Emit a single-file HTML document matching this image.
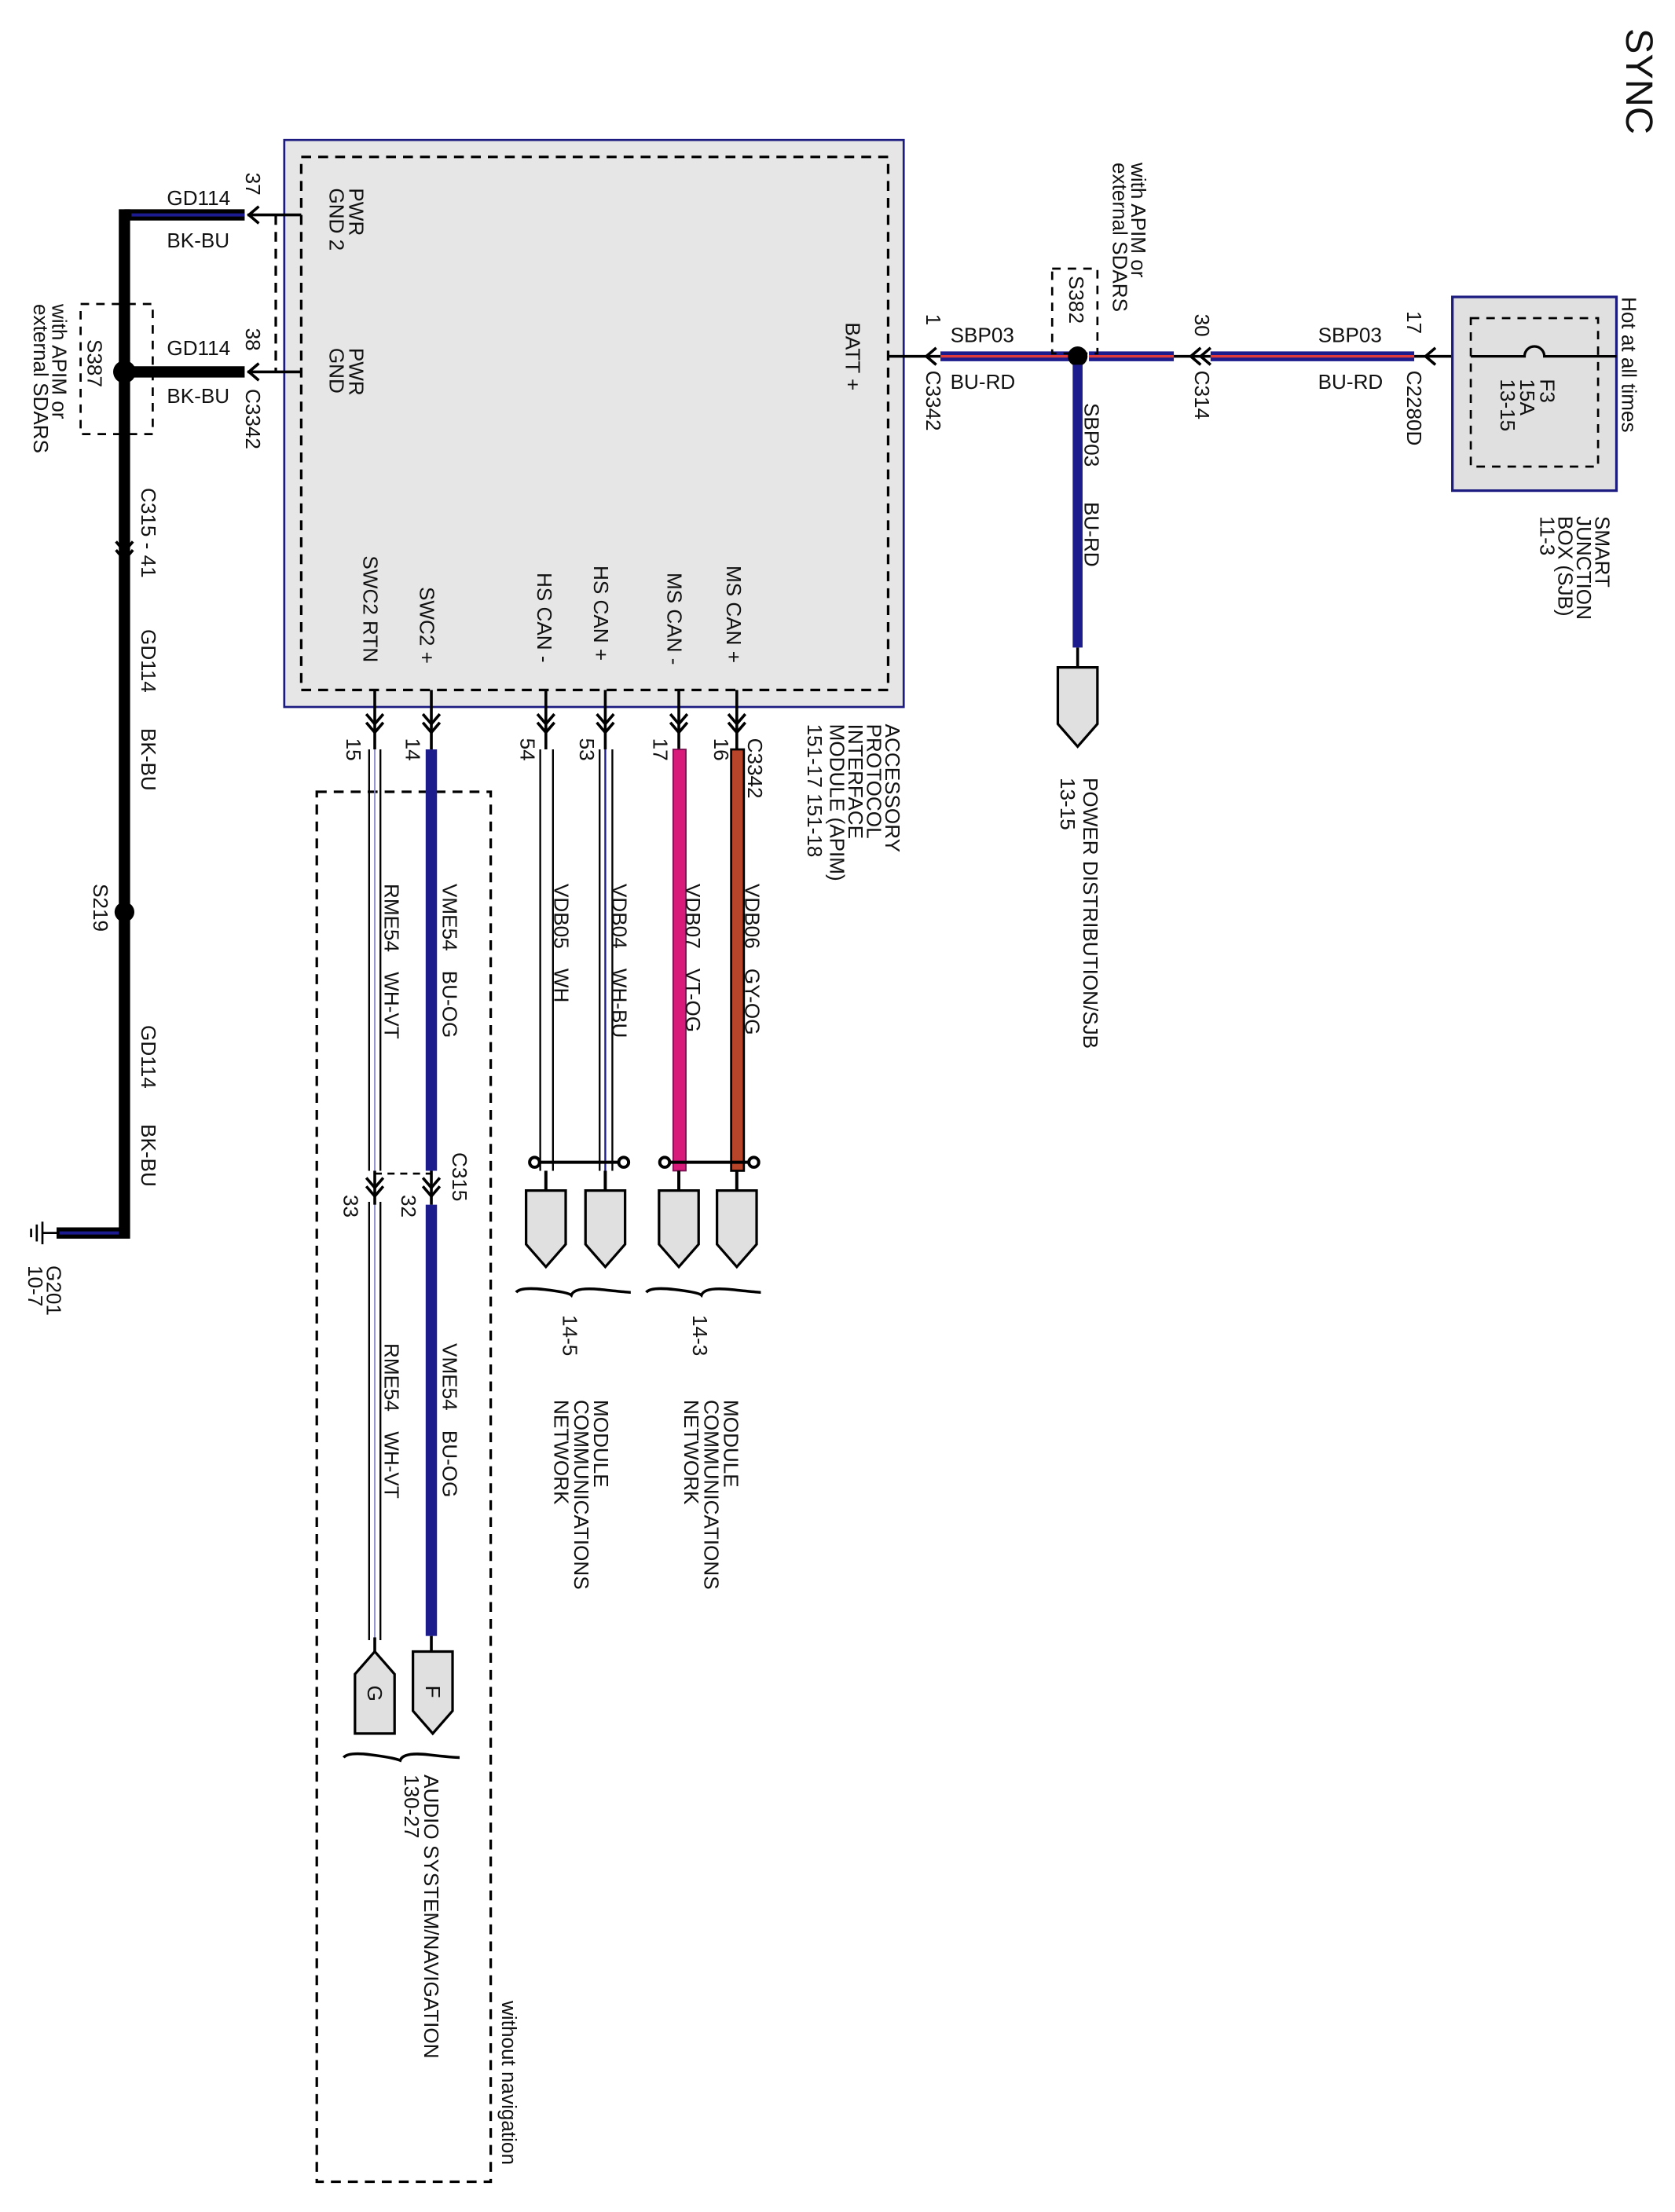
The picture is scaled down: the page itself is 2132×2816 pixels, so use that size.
<!DOCTYPE html>
<html><head><meta charset="utf-8"><style>
html,body{margin:0;padding:0;background:#fff}
svg{display:block}
text{font-family:"Liberation Sans",Arial,sans-serif;font-size:14.5px;fill:#111}
</style></head><body>
<svg width="2132" height="2816" viewBox="0 0 1184.4 1564.4" preserveAspectRatio="none" xmlns="http://www.w3.org/2000/svg">
<defs>
<g id="chev"><polyline points="-6,-7 0,0 6,-7" fill="none" stroke="#000" stroke-width="2"/><polyline points="-6,-1 0,6 6,-1" fill="none" stroke="#000" stroke-width="2"/></g>
<g id="chevL"><polyline points="7,-6 0,0 7,6" fill="none" stroke="#000" stroke-width="2"/></g>
</defs>
<rect width="1184.4" height="1564.4" fill="#fff"/>

<text transform="translate(1150,20) rotate(90)" style="font-size:27px">SYNC</text>

<!-- APIM box -->
<rect x="201" y="99" width="438" height="401" fill="#e6e6e6" stroke="#1c1c80" stroke-width="1.5"/>
<rect x="213" y="111" width="415" height="377" fill="none" stroke="#000" stroke-width="1.8" stroke-dasharray="7,5"/>
<text transform="translate(247,133) rotate(90)"><tspan x="0" y="0">PWR</tspan><tspan x="0" y="14">GND 2</tspan></text>
<text transform="translate(247,246) rotate(90)"><tspan x="0" y="0">PWR</tspan><tspan x="0" y="14">GND</tspan></text>
<text transform="translate(598,228) rotate(90)">BATT +</text>
<text transform="translate(257,393) rotate(90)">SWC2 RTN</text>
<text transform="translate(297,415) rotate(90)">SWC2 +</text>
<text transform="translate(380,405) rotate(90)">HS CAN -</text>
<text transform="translate(420,400) rotate(90)">HS CAN +</text>
<text transform="translate(472,405) rotate(90)">MS CAN -</text>
<text transform="translate(514,400) rotate(90)">MS CAN +</text>
<text transform="translate(626,512) rotate(90)"><tspan x="0" y="0">ACCESSORY</tspan><tspan x="0" y="13">PROTOCOL</tspan><tspan x="0" y="26">INTERFACE</tspan><tspan x="0" y="39">MODULE (APIM)</tspan><tspan x="0" y="55">151-17   151-18</tspan></text>

<!-- ground side -->
<line x1="195" y1="152" x2="195" y2="263" stroke="#000" stroke-width="1.8" stroke-dasharray="7,5"/>
<line x1="175" y1="152" x2="213" y2="152" stroke="#000" stroke-width="2"/>
<line x1="175" y1="263" x2="213" y2="263" stroke="#000" stroke-width="2"/>
<use href="#chevL" x="176" y="152"/><use href="#chevL" x="176" y="263"/>
<line x1="88" y1="152" x2="173" y2="152" stroke="#000" stroke-width="8"/>
<line x1="93" y1="152" x2="173" y2="152" stroke="#1c1c90" stroke-width="2.2"/>
<line x1="88" y1="263" x2="173" y2="263" stroke="#000" stroke-width="8"/>
<polyline points="88,148 88,872 40,872" fill="none" stroke="#000" stroke-width="8"/>
<line x1="42" y1="872" x2="84" y2="872" stroke="#1c1c90" stroke-width="2.2"/>
<circle cx="88" cy="263" r="8" fill="#000"/>
<circle cx="88" cy="645" r="7" fill="#000"/>
<rect x="57" y="215" width="51" height="92" fill="none" stroke="#000" stroke-width="1.5" stroke-dasharray="6,5"/>
<use href="#chev" x="88" y="390"/>
<line x1="30" y1="864" x2="30" y2="880" stroke="#000" stroke-width="1.5"/><line x1="26" y1="866" x2="26" y2="878" stroke="#000" stroke-width="1.5"/><line x1="22" y1="869" x2="22" y2="875" stroke="#000" stroke-width="1.5"/><line x1="30" y1="872" x2="40" y2="872" stroke="#000" stroke-width="1.5"/>
<text x="118" y="145">GD114</text><text x="118" y="175">BK-BU</text>
<text x="118" y="251">GD114</text><text x="118" y="285">BK-BU</text>
<text transform="translate(174,122) rotate(90)">37</text>
<text transform="translate(174,232) rotate(90)">38</text>
<text transform="translate(174,275) rotate(90)">C3342</text>
<text transform="translate(37,215) rotate(90)"><tspan x="0" y="0">with APIM or</tspan><tspan x="0" y="13">external SDARS</tspan></text>
<text transform="translate(62,240) rotate(90)">S387</text>
<text transform="translate(100,345) rotate(90)">C315 - 41</text>
<text transform="translate(100,445) rotate(90)">GD114</text><text transform="translate(100,515) rotate(90)">BK-BU</text>
<text transform="translate(66,625) rotate(90)">S219</text>
<text transform="translate(100,725) rotate(90)">GD114</text><text transform="translate(100,795) rotate(90)">BK-BU</text>
<text transform="translate(33,895) rotate(90)"><tspan x="0" y="0">G201</tspan><tspan x="0" y="13">10-7</tspan></text>

<!-- BATT wire -->
<line x1="628" y1="252" x2="665" y2="252" stroke="#000" stroke-width="2"/>
<use href="#chevL" x="655" y="252"/>
<g stroke-width="7"><line x1="665" y1="252" x2="756" y2="252" stroke="#1c1c8c"/><line x1="770" y1="252" x2="830" y2="252" stroke="#1c1c8c"/><line x1="856" y1="252" x2="1000" y2="252" stroke="#1c1c8c"/></g>
<g stroke-width="1.8" stroke="#e03a3a"><line x1="665" y1="252" x2="756" y2="252"/><line x1="770" y1="252" x2="830" y2="252"/><line x1="856" y1="252" x2="1000" y2="252"/></g>
<line x1="830" y1="252" x2="856" y2="252" stroke="#000" stroke-width="2"/>
<use href="#chevL" x="842" y="252"/><use href="#chevL" x="849" y="252"/>
<line x1="1000" y1="252" x2="1040" y2="252" stroke="#000" stroke-width="2"/>
<use href="#chevL" x="1008" y="252"/>
<circle cx="762" cy="252" r="7" fill="#000"/>
<rect x="744" y="190" width="32" height="60" fill="none" stroke="#000" stroke-width="1.5" stroke-dasharray="6,5"/>
<line x1="762" y1="258" x2="762" y2="458" stroke="#1c1c8c" stroke-width="7"/>
<line x1="762" y1="458" x2="762" y2="472" stroke="#000" stroke-width="2"/>
<polygon points="748,472 776,472 776,512 762,528 748,512" fill="#e0e0e0" stroke="#000" stroke-width="1.8"/>
<text x="672" y="242">SBP03</text><text x="672" y="275">BU-RD</text>
<text x="932" y="242">SBP03</text><text x="932" y="275">BU-RD</text>
<text transform="translate(655,222) rotate(90)">1</text>
<text transform="translate(655,262) rotate(90)">C3342</text>
<text transform="translate(845,222) rotate(90)">30</text>
<text transform="translate(845,262) rotate(90)">C314</text>
<text transform="translate(995,220) rotate(90)">17</text>
<text transform="translate(995,262) rotate(90)">C2280D</text>
<text transform="translate(800,115) rotate(90)"><tspan x="0" y="0">with APIM or</tspan><tspan x="0" y="13">external SDARS</tspan></text>
<text transform="translate(756,195) rotate(90)">S382</text>
<text transform="translate(767,285) rotate(90)">SBP03</text><text transform="translate(767,355) rotate(90)">BU-RD</text>
<text transform="translate(766,550) rotate(90)">POWER DISTRIBUTION/SJB</text>
<text transform="translate(750,550) rotate(90)">13-15</text>

<!-- SJB -->
<rect x="1027" y="210" width="116" height="137" fill="#e0e0e0" stroke="#1c1c80" stroke-width="1.8"/>
<rect x="1040" y="225" width="90" height="105" fill="none" stroke="#000" stroke-width="1.5" stroke-dasharray="6,5"/>
<path d="M1040,252 H1078 A7,7 0 0 1 1092,252 H1143" fill="none" stroke="#000" stroke-width="1.8"/>
<text transform="translate(1089,268) rotate(90)"><tspan x="0" y="0">F3</tspan><tspan x="0" y="14">15A</tspan><tspan x="0" y="28">13-15</tspan></text>
<text transform="translate(1147,210) rotate(90)">Hot at all times</text>
<text transform="translate(1128,365) rotate(90)"><tspan x="0" y="0">SMART</tspan><tspan x="0" y="13">JUNCTION</tspan><tspan x="0" y="26">BOX (SJB)</tspan><tspan x="0" y="39">11-3</tspan></text>

<!-- bottom wires -->
<g stroke="#000" stroke-width="2">
<line x1="265" y1="488" x2="265" y2="530"/><line x1="305" y1="488" x2="305" y2="530"/>
<line x1="386" y1="488" x2="386" y2="530"/><line x1="428" y1="488" x2="428" y2="530"/>
<line x1="480" y1="488" x2="480" y2="530"/><line x1="521" y1="488" x2="521" y2="530"/>
</g>
<use href="#chev" x="265" y="512"/><use href="#chev" x="305" y="512"/><use href="#chev" x="386" y="512"/><use href="#chev" x="428" y="512"/><use href="#chev" x="480" y="512"/><use href="#chev" x="521" y="512"/>
<g fill="none" stroke="#000" stroke-width="1.3">
<line x1="382" y1="530" x2="382" y2="828"/><line x1="391" y1="530" x2="391" y2="828"/>
<line x1="424" y1="530" x2="424" y2="828"/><line x1="433" y1="530" x2="433" y2="828"/>
</g>
<line x1="428" y1="530" x2="428" y2="828" stroke="#1c1c8c" stroke-width="1.3"/>
<rect x="476" y="530" width="9" height="298" fill="#d81b7a" stroke="#7a1050" stroke-width="1"/>
<rect x="517" y="530" width="9" height="298" fill="#b8452a" stroke="#000" stroke-width="1.5"/>
<g stroke="#000" stroke-width="2.2" fill="#fff">
<line x1="380" y1="822" x2="438" y2="822"/><circle cx="378" cy="822" r="3.5"/><circle cx="441" cy="822" r="3.5"/>
<line x1="472" y1="822" x2="531" y2="822"/><circle cx="470" cy="822" r="3.5"/><circle cx="533" cy="822" r="3.5"/>
<line x1="386" y1="828" x2="386" y2="842"/><line x1="428" y1="828" x2="428" y2="842"/><line x1="480" y1="828" x2="480" y2="842"/><line x1="521" y1="828" x2="521" y2="842"/>
</g>
<g fill="#e0e0e0" stroke="#000" stroke-width="1.8">
<polygon points="372,842 400,842 400,880 386,896 372,880"/>
<polygon points="414,842 442,842 442,880 428,896 414,880"/>
<polygon points="466,842 494,842 494,880 480,896 466,880"/>
<polygon points="507,842 535,842 535,880 521,896 507,880"/>
</g>
<g fill="none" stroke="#000" stroke-width="2">
<path d="M365,914 Q368,910 385,912 T404,916 Q406,910 425,912 T446,914"/>
<path d="M457,914 Q460,910 477,912 T496,916 Q498,910 517,912 T538,914"/>
<path d="M243,1243 Q246,1239 262,1241 T283,1245 Q285,1239 303,1241 T325,1243"/>
</g>
<text transform="translate(529,522) rotate(90)">C3342</text>
<text transform="translate(505,522) rotate(90)">16</text>
<text transform="translate(462,522) rotate(90)">17</text>
<text transform="translate(410,522) rotate(90)">53</text>
<text transform="translate(368,522) rotate(90)">54</text>
<text transform="translate(287,522) rotate(90)">14</text>
<text transform="translate(245,522) rotate(90)">15</text>
<text transform="translate(527,625) rotate(90)">VDB06<tspan dx="14">GY-OG</tspan></text>
<text transform="translate(485,625) rotate(90)">VDB07<tspan dx="14">VT-OG</tspan></text>
<text transform="translate(433,625) rotate(90)">VDB04<tspan dx="14">WH-BU</tspan></text>
<text transform="translate(392,625) rotate(90)">VDB05<tspan dx="14">WH</tspan></text>
<text transform="translate(313,625) rotate(90)">VME54<tspan dx="14">BU-OG</tspan></text>
<text transform="translate(272,625) rotate(90)">RME54<tspan dx="14">WH-VT</tspan></text>
<text transform="translate(313,950) rotate(90)">VME54<tspan dx="14">BU-OG</tspan></text>
<text transform="translate(272,950) rotate(90)">RME54<tspan dx="14">WH-VT</tspan></text>
<text transform="translate(490,930) rotate(90)">14-3</text>
<text transform="translate(398,930) rotate(90)">14-5</text>
<text transform="translate(512,990) rotate(90)"><tspan x="0" y="0">MODULE</tspan><tspan x="0" y="14">COMMUNICATIONS</tspan><tspan x="0" y="28">NETWORK</tspan></text>
<text transform="translate(420,990) rotate(90)"><tspan x="0" y="0">MODULE</tspan><tspan x="0" y="14">COMMUNICATIONS</tspan><tspan x="0" y="28">NETWORK</tspan></text>

<!-- SWC wires -->
<rect x="224" y="560" width="123" height="983" fill="none" stroke="#000" stroke-width="1.8" stroke-dasharray="7,5"/>
<text transform="translate(355,1415) rotate(90)">without navigation</text>
<g stroke="#000" stroke-width="1.3">
<line x1="261" y1="530" x2="261" y2="828"/><line x1="269" y1="530" x2="269" y2="828"/>
<line x1="261" y1="850" x2="261" y2="1160"/><line x1="269" y1="850" x2="269" y2="1160"/>
</g>
<line x1="265" y1="530" x2="265" y2="828" stroke="#8888cc" stroke-width="1"/>
<line x1="265" y1="850" x2="265" y2="1160" stroke="#8888cc" stroke-width="1"/>
<rect x="301" y="530" width="8" height="298" fill="#1c1c8c"/>
<rect x="301" y="852" width="8" height="305" fill="#1c1c8c"/>
<line x1="265" y1="828" x2="265" y2="852" stroke="#000" stroke-width="2"/>
<line x1="305" y1="828" x2="305" y2="852" stroke="#000" stroke-width="2"/>
<line x1="265" y1="830" x2="305" y2="830" stroke="#000" stroke-width="1.5" stroke-dasharray="5,4"/>
<use href="#chev" x="265" y="840"/><use href="#chev" x="305" y="840"/>
<text transform="translate(320,815) rotate(90)">C315</text>
<text transform="translate(284,845) rotate(90)">32</text>
<text transform="translate(243,845) rotate(90)">33</text>
<line x1="265" y1="1158" x2="265" y2="1168" stroke="#000" stroke-width="2"/>
<line x1="305" y1="1157" x2="305" y2="1168" stroke="#000" stroke-width="2"/>
<polygon points="292,1168 320,1168 320,1210 306,1226 292,1210" fill="#e0e0e0" stroke="#000" stroke-width="1.8"/>
<polygon points="265,1168 279,1184 279,1226 251,1226 251,1184" fill="#e0e0e0" stroke="#000" stroke-width="1.8"/>
<text transform="translate(301,1192) rotate(90)">F</text>
<text transform="translate(260,1192) rotate(90)">G</text>
<text transform="translate(300,1255) rotate(90)"><tspan x="0" y="0">AUDIO SYSTEM/NAVIGATION</tspan><tspan x="0" y="14">130-27</tspan></text>
</svg>
</body></html>
